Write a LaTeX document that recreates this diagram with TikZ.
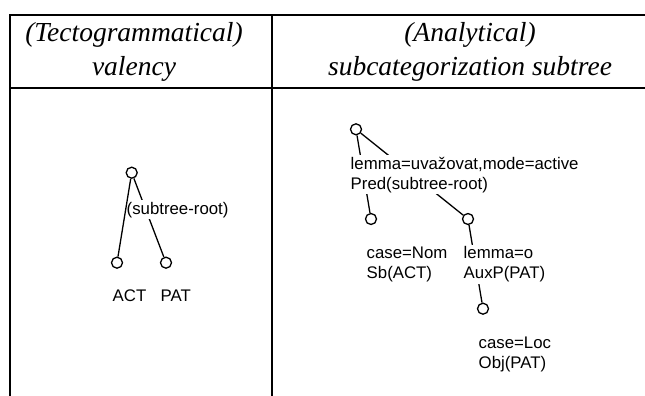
\documentclass[tikz,border=0pt]{standalone}
\usepackage{fontspec}
\setmainfont{Liberation Serif}
\newfontfamily\labfont{Liberation Sans}
\begin{document}
\begin{tikzpicture}[x=1pt,y=-1pt,
  tabline/.style={line width=2.2pt, line cap=rect},
  head/.style={anchor=base, inner sep=0pt, font=\fontsize{27.5}{33}\selectfont\itshape},
  tnode/.style={circle, draw, line width=1.3pt, minimum size=11pt, inner sep=0pt},
  edge/.style={line width=1.3pt},
  lab/.style={anchor=base west, align=left, fill=white, inner sep=1.5pt,
    font=\labfont\fontsize{16.8}{20}\selectfont}]
\useasboundingbox (0,0) rectangle (645,396);
% table
\draw[tabline] (10,15) -- (650,15);
\draw[tabline] (10,88) -- (650,88);
\draw[tabline] (10,15) -- (10,400);
\draw[tabline] (272,15) -- (272,400);
% headers
\node[head] (h1) at (134,42) {(Tectogrammatical)};
\node[head] (h2) at (134,76) {valency};
\node[head] (h3) at (470,42) {(Analytical)};
\node[head] (h4) at (470,76) {subcategorization subtree};
% left tree
\node[tnode] (r1) at (131.7,172.7) {};
\node[tnode] (a1) at (117,262.7) {};
\node[tnode] (p1) at (166,262.7) {};
\draw[edge] (r1) -- (p1);
\node[lab] (lr1) at (125,214) {(subtree-root)};
\node[lab] (la1) at (111,301) {ACT};
\node[lab] (lp1) at (159,301) {PAT};
\draw[edge] (r1) -- (a1);
% right tree
\node[tnode] (r2) at (356,129.3) {};
\node[tnode] (s2) at (371,219) {};
\node[tnode] (x2) at (468,219) {};
\node[tnode] (o2) at (483,308.7) {};
\draw[edge] (r2) -- (s2);
\draw[edge] (r2) -- (x2);
\draw[edge] (x2) -- (o2);
\node[lab] (lr2) at (349,189) {lemma=uva\v{z}ovat,mode=active\\Pred(subtree-root)};
\node[lab] (ls2) at (365,278.7) {case=Nom\\Sb(ACT)};
\node[lab] (lx2) at (462,278.7) {lemma=o\\AuxP(PAT)};
\node[lab] (lo2) at (477,368.7) {case=Loc\\Obj(PAT)};
\end{tikzpicture}
\end{document}
